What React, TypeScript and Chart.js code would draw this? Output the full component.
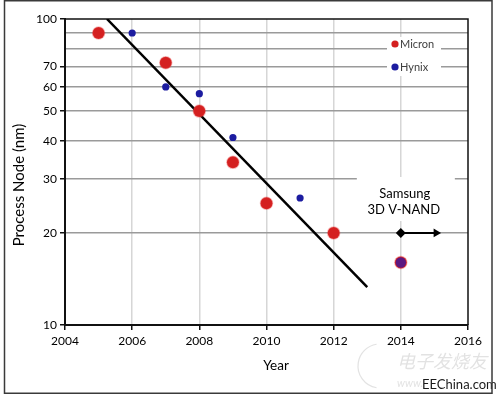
import React, { useEffect, useRef } from "react";
import { Chart, registerables } from "chart.js";

Chart.register(...registerables);

// ---- data ----
const micronYears = [2005, 2007, 2008, 2009, 2010, 2012, 2014];
const micronNodes = [90, 72, 50, 34, 25, 20, 16];
const hynixYears = [2006, 2007, 2008, 2009, 2011, 2014];
const hynixNodes = [90, 60, 57, 41, 26, 16];
const trendYears = [2005.25, 2013];
const trendNodes = [100, 13.3];
const samsungYears = [2014, 2015.05];
const samsungNodes = [20, 20];
const yTickValues = [10, 20, 30, 40, 50, 60, 70, 80, 90, 100];
const yTickLabels = [10, 20, 30, 40, 50, 60, 70, 100];
const xMin = 2004;
const xMax = 2016;
const xStep = 2;
const samsungLabel = ["Samsung", "3D V-NAND"];
const legendNames = ["Micron", "Hynix"];
const xTitle = "Year";
const yTitle = "Process Node (nm)";

const FONT = "Lato, Calibri, 'Open Sans', sans-serif";
const RED = "#d42020";
const BLUE = "#1c1ca0";

const pts = (xs: number[], ys: number[]) => xs.map((x, i) => ({ x, y: ys[i] }));

const decor = {
  id: "decor",
  beforeDraw(chart: any) {
    const { ctx, width, height } = chart;
    ctx.save();
    ctx.fillStyle = "#ffffff";
    ctx.fillRect(0, 0, width, height);
    ctx.restore();
  },
  beforeDatasetsDraw(chart: any) {
    const { ctx, chartArea: a, scales } = chart;
    const x = scales.x;
    const y = scales.y;
    ctx.save();
    // top / right frame of plot
    ctx.strokeStyle = "#111";
    ctx.lineWidth = 1.5;
    ctx.beginPath();
    ctx.moveTo(a.left, a.top);
    ctx.lineTo(a.right, a.top);
    ctx.lineTo(a.right, a.bottom);
    ctx.stroke();

    // axis titles
    ctx.fillStyle = "#000";
    ctx.textAlign = "center";
    ctx.textBaseline = "middle";
    ctx.font = `13.5px ${FONT}`;
    ctx.fillText(xTitle, a.left + 211, a.bottom + 41);
    ctx.save();
    ctx.translate(19, a.top + 166);
    ctx.rotate(-Math.PI / 2);
    ctx.font = `15px ${FONT}`;
    ctx.fillText(yTitle, 0, 0);
    ctx.restore();

    // Samsung annotation box
    const sx = x.getPixelForValue(samsungYears[0]);
    const sy = y.getPixelForValue(30);
    ctx.fillStyle = "#ffffff";
    ctx.fillRect(sx - 44, sy - 2, 98, 44);
    ctx.fillStyle = "#000";
    ctx.font = `13px ${FONT}`;
    ctx.textAlign = "center";
    ctx.textBaseline = "middle";
    ctx.fillText(samsungLabel[0], sx + 4, sy + 15);
    ctx.fillText(samsungLabel[1], sx + 3, sy + 31);

    // legend
    const lx = a.right - 81;
    ctx.fillStyle = "#ffffff";
    ctx.fillRect(lx, 37, 54, 39);
    ctx.font = `11px ${FONT}`;
    ctx.textAlign = "left";
    const colors = [RED, BLUE];
    legendNames.forEach((name, i) => {
      const cy = 44 + i * 23;
      ctx.fillStyle = colors[i];
      ctx.beginPath();
      ctx.arc(lx + 8, cy, 3.6, 0, Math.PI * 2);
      ctx.fill();
      ctx.fillStyle = "#404040";
      ctx.fillText(name, lx + 13, cy + 0.5);
    });
    ctx.restore();
  },
  afterDraw(chart: any) {
    const { ctx } = chart;
    ctx.save();
    // watermark
    ctx.fillStyle = "rgba(140,140,140,0.25)";
    ctx.font = `italic 18px 'Noto Sans CJK SC'`;
    ctx.textAlign = "left";
    ctx.textBaseline = "middle";
    ctx.fillText("电子发烧友", 397, 361);
    ctx.font = `italic 11px ${FONT}`;
    ctx.fillText("www.", 397, 383);
    ctx.strokeStyle = "rgba(140,140,140,0.25)";
    ctx.lineWidth = 1.2;
    ctx.beginPath();
    ctx.arc(380, 366, 22, Math.PI * 0.55, Math.PI * 1.45);
    ctx.stroke();
    ctx.fillStyle = "#1a1a1a";
    ctx.font = `13px ${FONT}`;
    ctx.textBaseline = "alphabetic";
    ctx.fillText("EEChina.com", 422, 389);
    // outer frame
    ctx.strokeStyle = "#3a3a3a";
    ctx.lineWidth = 1.5;
    ctx.strokeRect(4.5, 0.75, 487.5, 392.5);
    ctx.restore();
  },
};

export default function App() {
  const ref = useRef<HTMLCanvasElement | null>(null);

  useEffect(() => {
    if (!ref.current) return;
    Chart.defaults.font.family = FONT;
    const lastH = hynixYears.length - 1;
    const chart = new Chart(ref.current, {
      type: "scatter",
      data: {
        datasets: [
          {
            type: "line",
            label: "Trend",
            data: pts(trendYears, trendNodes),
            borderColor: "#000",
            borderWidth: 2.5,
            pointRadius: 0,
            order: 3,
          } as any,
          {
            label: "Micron",
            data: pts(micronYears, micronNodes),
            backgroundColor: RED,
            borderColor: "rgba(230,60,60,0.35)",
            borderWidth: 1.5,
            pointRadius: 6,
            order: 2,
          },
          {
            label: "Hynix",
            data: pts(hynixYears, hynixNodes),
            backgroundColor: (c: any) => (c.dataIndex === lastH ? "rgba(45,20,165,0.72)" : BLUE),
            borderWidth: 0,
            pointRadius: (c: any) => (c.dataIndex === lastH ? 5.2 : 3.6),
            order: 1,
          } as any,
          {
            type: "line",
            label: "Samsung",
            data: pts(samsungYears, samsungNodes),
            borderColor: "#000",
            borderWidth: 2,
            backgroundColor: "#000",
            pointStyle: ["rectRot", "triangle"],
            pointRadius: [5, 5],
            rotation: [0, 90],
            pointBorderWidth: 0,
            order: 0,
          } as any,
        ],
      },
      options: {
        responsive: false,
        animation: false,
        layout: { padding: { left: 0, top: 19, right: 32, bottom: 0 } },
        plugins: {
          legend: { display: false },
          tooltip: { enabled: false },
        },
        scales: {
          x: {
            type: "linear",
            min: xMin,
            max: xMax,
            afterFit: (s: any) => {
              s.height = 74;
            },
            ticks: {
              stepSize: xStep,
              padding: 4,
              color: "#000",
              font: { family: FONT, size: 12 },
              callback: (v: any) => String(v),
            },
            grid: {
              color: (c: any) =>
                c.tick && (c.tick.value === xMin || c.tick.value === xMax) ? "rgba(0,0,0,0)" : "#d6d6d6",
              lineWidth: 1.5,
              tickLength: 5,
              tickColor: "#111",
            },
            border: { color: "#111", width: 2 },
            title: { display: false, text: xTitle },
          },
          y: {
            type: "logarithmic",
            min: 10,
            max: 100,
            afterFit: (s: any) => {
              s.width = 65;
            },
            afterBuildTicks: (s: any) => {
              s.ticks = yTickValues.map((v) => ({ value: v }));
            },
            ticks: {
              autoSkip: false,
              padding: 3,
              color: "#000",
              font: { family: FONT, size: 12 },
              callback: (v: any) => (yTickLabels.includes(Number(v)) ? String(v) : ""),
            },
            grid: {
              color: (c: any) =>
                c.tick && (c.tick.value === 10 || c.tick.value === 100) ? "rgba(0,0,0,0)" : "#9a9a9a",
              lineWidth: 1.5,
              tickLength: 5,
              tickColor: (c: any) =>
                c.tick && yTickLabels.includes(c.tick.value) ? "#111" : "rgba(0,0,0,0)",
            },
            border: { color: "#111", width: 2 },
            title: { display: false, text: yTitle },
          },
        },
      },
      plugins: [decor],
    } as any);
    return () => chart.destroy();
  }, []);

  return (
    <div style={{ position: "fixed", left: 0, top: 0, width: 500, height: 399 }}>
      <canvas ref={ref} width={500} height={399} />
    </div>
  );
}
